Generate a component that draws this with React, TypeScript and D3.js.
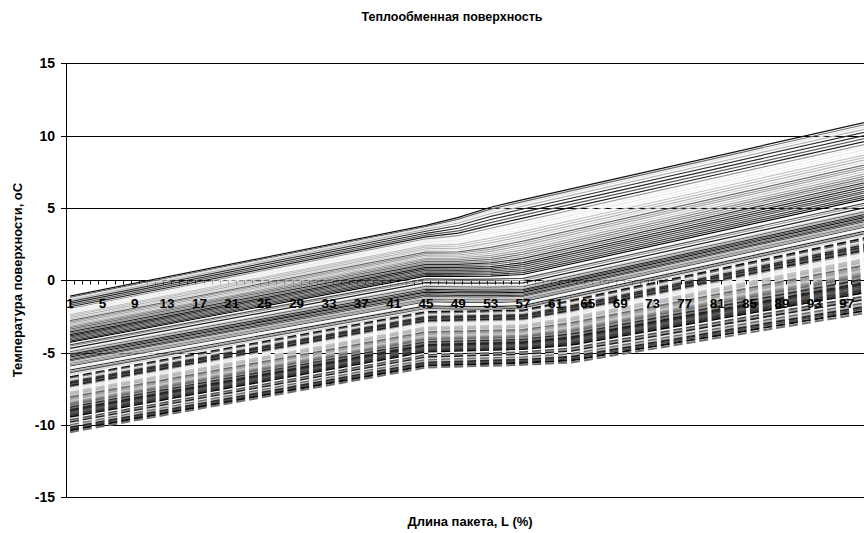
import React from 'react';
import * as d3 from 'd3';

const W = 864;
const H = 533;

// category axis: 100 points along the package, every 4th one labelled
const nCategories = 100;
const tickLabels = ['1', '5', '9', '13', '17', '21', '25', '29', '33', '37', '41', '45', '49', '53', '57', '61', '65', '69', '73', '77', '81', '85', '89', '93', '97'];
const yTicks = [15, 10, 5, 0, -5, -10, -15];

// solid series, values read at a few categories where the lines bend
const solidCats = [1, 45, 49, 53, 57, 100];
const solidAt1 = [-1.10, -1.18, -1.26, -1.35, -1.47, -1.60, -1.72, -1.83, -1.95, -2.05, -2.16, -2.26, -2.37, -2.47, -2.58, -2.68, -2.79, -2.88, -2.98, -3.08, -3.18, -3.27, -3.37, -3.46, -3.56, -3.65, -3.75, -3.84, -3.93, -4.02, -4.11, -4.20, -4.29, -4.38, -4.46, -4.55, -4.70, -4.86, -4.94, -5.03, -5.12, -5.21, -5.30, -5.39, -5.48, -5.57, -5.66, -5.75, -5.84, -5.93, -6.02, -6.11, -6.20, -6.29, -6.38, -6.50];
const solidAt45 = [3.80, 3.71, 3.62, 3.52, 3.39, 3.25, 3.12, 3.00, 2.87, 2.76, 2.64, 2.53, 2.41, 2.30, 2.18, 2.07, 1.95, 1.85, 1.74, 1.63, 1.52, 1.42, 1.31, 1.21, 1.10, 1.00, 0.89, 0.79, 0.69, 0.59, 0.49, 0.39, 0.29, 0.19, 0.10, 0.00, -0.16, -0.33, -0.42, -0.52, -0.62, -0.72, -0.82, -0.91, -1.01, -1.11, -1.20, -1.30, -1.39, -1.49, -1.58, -1.68, -1.77, -1.86, -1.95, -2.08];
const solidAt49 = [4.35, 4.23, 4.10, 3.96, 3.79, 3.60, 3.42, 3.26, 3.09, 2.94, 2.79, 2.65, 2.50, 2.37, 2.23, 2.11, 1.97, 1.87, 1.75, 1.64, 1.53, 1.42, 1.31, 1.21, 1.10, 1.00, 0.89, 0.78, 0.68, 0.58, 0.48, 0.38, 0.27, 0.17, 0.07, -0.03, -0.19, -0.37, -0.46, -0.56, -0.66, -0.76, -0.86, -0.95, -1.05, -1.15, -1.24, -1.34, -1.43, -1.53, -1.62, -1.72, -1.81, -1.90, -1.99, -2.12];
const solidAt53 = [5.05, 4.92, 4.78, 4.62, 4.42, 4.20, 3.99, 3.80, 3.60, 3.43, 3.25, 3.08, 2.91, 2.75, 2.59, 2.44, 2.28, 2.14, 2.00, 1.86, 1.72, 1.59, 1.45, 1.33, 1.20, 1.08, 0.95, 0.83, 0.72, 0.62, 0.51, 0.40, 0.29, 0.18, 0.08, -0.03, -0.20, -0.38, -0.47, -0.57, -0.67, -0.77, -0.87, -0.96, -1.06, -1.16, -1.25, -1.35, -1.44, -1.54, -1.63, -1.73, -1.82, -1.91, -2.00, -2.13];
const solidAt57 = [5.58, 5.44, 5.30, 5.13, 4.93, 4.71, 4.50, 4.30, 4.10, 3.92, 3.74, 3.56, 3.38, 3.21, 3.04, 2.88, 2.71, 2.56, 2.41, 2.26, 2.10, 1.95, 1.80, 1.66, 1.51, 1.37, 1.22, 1.08, 0.94, 0.81, 0.67, 0.53, 0.40, 0.26, 0.13, 0.00, -0.18, -0.35, -0.44, -0.54, -0.64, -0.73, -0.83, -0.92, -1.02, -1.11, -1.20, -1.30, -1.39, -1.48, -1.57, -1.66, -1.75, -1.83, -1.91, -2.02];
const solidAt100 = [11.00, 10.86, 10.71, 10.54, 10.34, 10.11, 9.90, 9.70, 9.49, 9.31, 9.12, 8.94, 8.76, 8.58, 8.41, 8.25, 8.07, 7.92, 7.77, 7.61, 7.45, 7.29, 7.14, 7.00, 6.84, 6.70, 6.55, 6.40, 6.26, 6.13, 5.98, 5.84, 5.70, 5.56, 5.43, 5.29, 5.11, 4.94, 4.84, 4.74, 4.64, 4.54, 4.44, 4.34, 4.24, 4.15, 4.05, 3.95, 3.86, 3.76, 3.67, 3.58, 3.48, 3.40, 3.31, 3.20];

// dashed series
const dashedCats = [1, 45, 57, 63, 100];
const dashedAt1 = [-6.70, -6.78, -6.88, -6.96, -7.04, -7.15, -7.23, -7.31, -7.41, -7.49, -7.57, -7.67, -7.75, -7.83, -7.93, -8.01, -8.09, -8.19, -8.27, -8.35, -8.45, -8.53, -8.61, -8.71, -8.79, -8.87, -8.97, -9.05, -9.14, -9.23, -9.31, -9.40, -9.49, -9.57, -9.66, -9.75, -9.83, -9.92, -10.01, -10.09, -10.18, -10.27, -10.38, -10.50];
const dashedAt45 = [-2.20, -2.29, -2.38, -2.46, -2.54, -2.65, -2.73, -2.81, -2.91, -2.99, -3.07, -3.17, -3.25, -3.33, -3.43, -3.51, -3.59, -3.69, -3.77, -3.85, -3.95, -4.03, -4.11, -4.21, -4.29, -4.37, -4.47, -4.55, -4.64, -4.73, -4.81, -4.90, -4.99, -5.07, -5.16, -5.25, -5.33, -5.42, -5.51, -5.60, -5.69, -5.78, -5.90, -6.03];
const dashedAt57 = [-2.08, -2.17, -2.25, -2.33, -2.41, -2.52, -2.60, -2.68, -2.77, -2.85, -2.93, -3.03, -3.11, -3.19, -3.28, -3.36, -3.44, -3.53, -3.61, -3.69, -3.79, -3.86, -3.94, -4.04, -4.12, -4.20, -4.29, -4.37, -4.46, -4.55, -4.63, -4.71, -4.80, -4.88, -4.97, -5.06, -5.14, -5.23, -5.32, -5.40, -5.49, -5.58, -5.70, -5.84];
const dashedAt63 = [-1.40, -1.50, -1.59, -1.69, -1.78, -1.90, -1.99, -2.09, -2.19, -2.28, -2.37, -2.48, -2.58, -2.67, -2.77, -2.86, -2.95, -3.06, -3.15, -3.24, -3.35, -3.43, -3.53, -3.64, -3.73, -3.82, -3.93, -4.02, -4.12, -4.22, -4.31, -4.41, -4.51, -4.60, -4.70, -4.80, -4.90, -5.00, -5.10, -5.19, -5.29, -5.40, -5.53, -5.68];
const dashedAt100 = [3.00, 2.88, 2.77, 2.65, 2.53, 2.39, 2.28, 2.16, 2.04, 1.93, 1.82, 1.69, 1.56, 1.45, 1.33, 1.22, 1.11, 0.98, 0.87, 0.75, 0.62, 0.52, 0.40, 0.27, 0.16, 0.05, -0.09, -0.20, -0.32, -0.44, -0.55, -0.67, -0.80, -0.91, -1.03, -1.15, -1.27, -1.39, -1.51, -1.62, -1.75, -1.88, -2.03, -2.20];

// series palette (grey levels)
const seriesGrays = [
  '#0f0f0f', '#696969', '#e2e2e2', '#b3b3b3', '#353535', '#262626', '#5a5a5a', '#1d1d1d',
  '#959595', '#f0f0f0', '#eaeaea', '#f3f3f3', '#c3c3c3', '#bdbdbd', '#b4b4b4', '#d5d5d5',
  '#686868', '#9e9e9e', '#a6a6a6', '#c4c4c4', '#a6a6a6', '#888888', '#6c6c6c', '#969696',
  '#2a2a2a', '#757575', '#1e1e1e', '#2d2d2d', '#4c4c4c', '#585858', '#3e3e3e', '#333333',
  '#000000', '#f8f8f8', '#4c4c4c', '#969696', '#1d1d1d', '#e2e2e2', '#696969', '#b3b3b3',
  '#262626', '#4b4b4b', '#0f0f0f', '#717171', '#353535', '#5a5a5a', '#c0c0c0', '#808080',
  '#a5a5a5', '#585858', '#f9f9f9', '#f0f0f0', '#2a2a2a', '#a6a6a6', '#535353', '#d2d2d2',
];

const font = 'Arial, "Liberation Sans", sans-serif';

export default function App() {
  const left = 66;
  const catW = 8.09;
  const x = d3.scaleLinear().domain([0.5, nCategories + 0.5]).range([left, left + catW * nCategories]);
  const y = d3.scaleLinear().domain([-15, 15]).range([497.3, 63.3]);
  const crisp = (v: number) => Math.round(v) + 0.5;
  const line = d3.line<[number, number]>().x(d => x(d[0])).y(d => y(d[1]));

  const solidCols = [solidAt1, solidAt45, solidAt49, solidAt53, solidAt57, solidAt100];
  const dashedCols = [dashedAt1, dashedAt45, dashedAt57, dashedAt63, dashedAt100];
  const solid = solidAt1.map((_, i) => solidCats.map((c, k) => [c, solidCols[k][i]] as [number, number]));
  const dashed = dashedAt1.map((_, i) => dashedCats.map((c, k) => [c, dashedCols[k][i]] as [number, number]));

  const y0 = crisp(y(0));
  const right = W;
  const catTicks = d3.range(0, nCategories + 1).map(i => crisp(x(i + 0.5)));

  return (
    <svg width={W} height={H} style={{ position: 'absolute', left: 0, top: 0, background: '#fff' }}>
      <text x={452} y={21} textAnchor="middle" fontFamily={font} fontWeight="bold" fontSize={12.5}>
        Теплообменная поверхность
      </text>

      {/* gridlines */}
      {yTicks.filter(v => v !== 0).map(v => (
        <line key={v} x1={left} x2={right} y1={crisp(y(v))} y2={crisp(y(v))} stroke="#000" strokeWidth={1} />
      ))}

      {/* value axis */}
      <line x1={crisp(left)} x2={crisp(left)} y1={crisp(y(15))} y2={crisp(y(-15))} stroke="#000" />
      {yTicks.map(v => (
        <g key={v}>
          <line x1={left - 5} x2={left} y1={crisp(y(v))} y2={crisp(y(v))} stroke="#000" />
          <text x={55} y={y(v) + 5} textAnchor="end" fontFamily={font} fontWeight="bold" fontSize={14}>
            {v}
          </text>
        </g>
      ))}

      {/* category axis at zero */}
      <line x1={left} x2={right} y1={y0} y2={y0} stroke="#000" />
      {catTicks.map((tx, i) => (
        <line key={i} x1={tx} x2={tx} y1={y0} y2={y0 + 4} stroke="#000" />
      ))}

      <g fill="none" strokeLinejoin="round">
        {solid.map((s, i) => (
          <path key={'s' + i} d={line(s) || ''} stroke={seriesGrays[i % seriesGrays.length]} strokeWidth={1.2} />
        ))}
        {dashed.map((s, i) => (
          <path key={'d' + i} d={line(s) || ''} stroke={seriesGrays[i % seriesGrays.length]} strokeWidth={2} strokeDasharray="9 4" />
        ))}
      </g>

      {tickLabels.map(t => (
        <text key={t} x={x(+t)} y={308} textAnchor="middle" fontFamily={font} fontWeight="bold" fontSize={13.5}>
          {t}
        </text>
      ))}

      <text x={470} y={526} textAnchor="middle" fontFamily={font} fontWeight="bold" fontSize={13}>
        Длина пакета, L (%)
      </text>
      <text transform="translate(22,280) rotate(-90)" textAnchor="middle" fontFamily={font} fontWeight="bold" fontSize={13}>
        Температура поверхности, оС
      </text>
    </svg>
  );
}
